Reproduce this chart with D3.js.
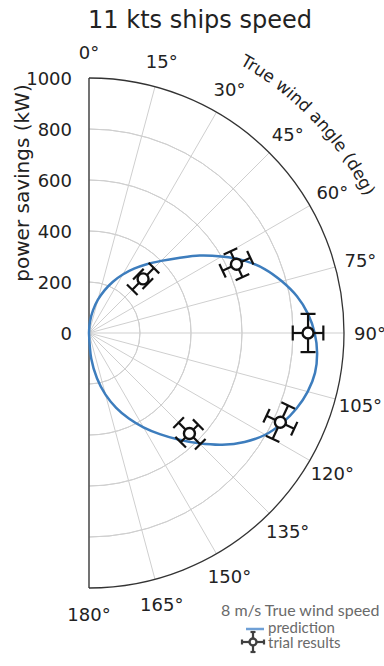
<!DOCTYPE html>
<html lang="en">
<head>
  <meta charset="UTF-8">
  <title>11 kts ships speed</title>
  <script src="https://d3js.org/d3.v7.min.js"></script>
  <style>
    body { margin: 0; background: #fff; }
    svg { display: block; font-family: "DejaVu Sans", sans-serif; }
    .legend text { font-family: Lato, "Open Sans", sans-serif; fill: #6a6a6a; }
  </style>
</head>
<body>
  <div id="chart"></div>
  <script>
    // prediction curve (angle in deg, power savings in kW)
    const predAngle = [0, 5, 10, 15, 20, 25, 30, 35, 40, 45, 50, 55, 60, 65, 70, 75, 80, 85, 90,
                       95, 100, 105, 110, 115, 120, 125, 130, 135, 140, 145, 150, 155, 160, 165, 170, 175, 180];
    const predPower = [0, 45, 90, 135, 178, 222, 265, 308, 352, 400, 458, 530, 600, 672, 733, 783, 828, 862, 885,
                       898, 900, 888, 866, 836, 798, 745, 682, 612, 545, 484, 427, 370, 312, 250, 180, 100, 0];

    // trial results with error bars
    const trialAngle = [45, 65, 90, 115, 135];
    const trialPower = [300, 638, 859, 828, 557];
    const trialErrPower = [60, 60, 60, 60, 60];
    const trialErrAngle = [5, 5, 5, 5, 5];

    const radialTicks = [0, 200, 400, 600, 800, 1000];
    const angleTicks = d3.range(0, 181, 15);

    const width = 384, height = 666;
    const cx = 89, cy = 333, R = 255;
    const blue = '#3d7dbd';

    const r = d3.scaleLinear().domain([0, 1000]).range([0, R]);
    const rad = d => d * Math.PI / 180;

    const svg = d3.select('#chart').append('svg')
      .attr('width', width)
      .attr('height', height);

    svg.append('text')
      .attr('x', 200).attr('y', 28)
      .attr('text-anchor', 'middle')
      .attr('font-size', 24)
      .attr('fill', '#222')
      .text('11 kts ships speed');

    const g = svg.append('g').attr('transform', `translate(${cx},${cy})`);

    // grid: half circles and spokes
    const arc = d3.arc().startAngle(0).endAngle(Math.PI);
    g.selectAll('.ring')
      .data(radialTicks.filter(v => v > 0 && v < 1000))
      .enter().append('path')
      .attr('d', v => arc({ innerRadius: r(v), outerRadius: r(v) }))
      .attr('fill', 'none')
      .attr('stroke', '#cfcfcf')
      .attr('stroke-width', 1);

    g.selectAll('.spoke')
      .data(angleTicks)
      .enter().append('line')
      .attr('x1', 0).attr('y1', 0)
      .attr('x2', a => R * Math.sin(rad(a)))
      .attr('y2', a => -R * Math.cos(rad(a)))
      .attr('stroke', '#cfcfcf')
      .attr('stroke-width', 1);

    // frame
    g.append('path')
      .attr('d', arc({ innerRadius: R, outerRadius: R }))
      .attr('fill', 'none')
      .attr('stroke', '#333')
      .attr('stroke-width', 1.3);
    g.append('line')
      .attr('x1', 0).attr('y1', -R).attr('x2', 0).attr('y2', R)
      .attr('stroke', '#333')
      .attr('stroke-width', 1.3);

    // angle labels
    g.selectAll('.alabel')
      .data(angleTicks)
      .enter().append('text')
      .attr('x', a => (R + 26) * Math.sin(rad(a)))
      .attr('y', a => -(R + 26) * Math.cos(rad(a)))
      .attr('text-anchor', 'middle')
      .attr('dominant-baseline', 'central')
      .attr('font-size', 18)
      .attr('fill', '#222')
      .text(a => a + '°');

    // radial labels on the left of the spine
    g.selectAll('.rlabel')
      .data(radialTicks)
      .enter().append('text')
      .attr('x', -17)
      .attr('y', v => -r(v))
      .attr('text-anchor', 'end')
      .attr('dominant-baseline', 'central')
      .attr('font-size', 18)
      .attr('fill', '#222')
      .text(v => v);

    svg.append('text')
      .attr('transform', 'translate(29,183) rotate(-90)')
      .attr('text-anchor', 'middle')
      .attr('font-size', 20)
      .attr('fill', '#222')
      .text('power savings (kW)');

    // curved angle axis label (d3.path angles start at 3 o'clock)
    const labelR = 308;
    const labelPath = d3.path();
    labelPath.arc(0, 0, labelR, rad(10) - Math.PI / 2, rad(85) - Math.PI / 2);
    g.append('defs').append('path')
      .attr('id', 'angleLabelPath')
      .attr('d', labelPath.toString());
    g.append('text')
      .attr('font-size', 17)
      .attr('fill', '#222')
      .append('textPath')
      .attr('href', '#angleLabelPath')
      .attr('startOffset', `${(46.5 - 10) / 75 * 100}%`)
      .attr('text-anchor', 'middle')
      .text('True wind angle (deg)');

    // prediction
    const pred = predAngle.map((a, i) => ({ a, p: predPower[i] }));
    const line = d3.lineRadial()
      .angle(d => rad(d.a))
      .radius(d => r(d.p))
      .curve(d3.curveCatmullRom);
    g.append('path')
      .datum(pred)
      .attr('d', line)
      .attr('fill', 'none')
      .attr('stroke', blue)
      .attr('stroke-width', 2.5);

    // trial results: marker with radial and angular error bars
    function drawTrial(sel, erPx, eaPx, cap, mr) {
      sel.append('line').attr('x1', 0).attr('x2', 0).attr('y1', -erPx).attr('y2', erPx);
      sel.append('line').attr('x1', -cap).attr('x2', cap).attr('y1', -erPx).attr('y2', -erPx);
      sel.append('line').attr('x1', -cap).attr('x2', cap).attr('y1', erPx).attr('y2', erPx);
      sel.append('line').attr('x1', -eaPx).attr('x2', eaPx).attr('y1', 0).attr('y2', 0);
      sel.append('line').attr('x1', -eaPx).attr('x2', -eaPx).attr('y1', -cap).attr('y2', cap);
      sel.append('line').attr('x1', eaPx).attr('x2', eaPx).attr('y1', -cap).attr('y2', cap);
      sel.selectAll('line').attr('stroke', '#111').attr('stroke-width', 2.2);
      sel.append('circle').attr('r', mr)
        .attr('fill', '#fff').attr('stroke', '#111').attr('stroke-width', 2.4);
    }

    trialAngle.forEach((a, i) => {
      const rp = r(trialPower[i]);
      const t = g.append('g')
        .attr('transform', `translate(${rp * Math.sin(rad(a))},${-rp * Math.cos(rad(a))}) rotate(${a})`);
      drawTrial(t, r(trialErrPower[i]), rp * rad(trialErrAngle[i]), 7.5, 5.5);
    });

    // legend
    const lg = svg.append('g').attr('class', 'legend');
    lg.append('text').attr('x', 221).attr('y', 616).attr('font-size', 16).text('8 m/s True wind speed');
    lg.append('line').attr('x1', 246).attr('x2', 264).attr('y1', 629).attr('y2', 629)
      .attr('stroke', '#6fa0d6').attr('stroke-width', 2.5);
    lg.append('text').attr('x', 268).attr('y', 633).attr('font-size', 15).text('prediction');
    drawTrial(lg.append('g').attr('transform', 'translate(253,642) rotate(90)').attr('opacity', 0.8), 11, 10, 2.5, 3.5);
    lg.append('text').attr('x', 268).attr('y', 648).attr('font-size', 15).text('trial results');
  </script>
</body>
</html>
